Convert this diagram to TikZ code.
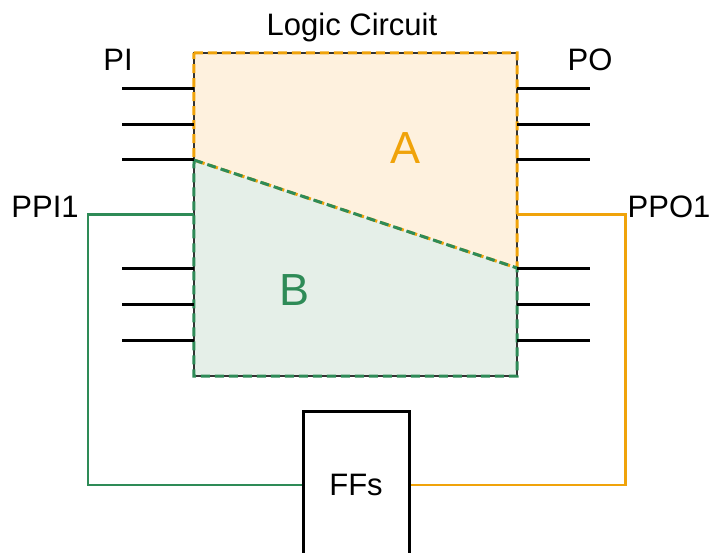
\documentclass[tikz,border=0pt]{standalone}
\usepackage{fontspec}
\setmainfont{Liberation Sans}
\definecolor{partA}{HTML}{F0A30A}
\definecolor{partAfill}{HTML}{FEF1DE}
\definecolor{partB}{HTML}{2E8B57}
\definecolor{partBfill}{HTML}{E5EFE8}
\begin{document}
\begin{tikzpicture}[
  x=1pt, y=-1pt,
  lbl/.style={font=\fontsize{31}{36}\selectfont},
  region/.style={font=\fontsize{45}{52}\selectfont},
  pin/.style={line width=3pt, draw=black},
  part/.style={line width=3pt, dash pattern=on 9pt off 5pt},
  feed/.style={line width=2.6pt}
]
  \useasboundingbox (0,0) rectangle (711,553);

  % Bloque combinacional y el corte entre A y B
  \node[minimum size=323pt, inner sep=0pt] (lc) at (355.5,214.5) {};
  \coordinate (cutL) at (194,160);
  \coordinate (cutR) at (517,268);

  \fill[partAfill] (lc.north west) -- (lc.north east) -- (cutR) -- (cutL) -- cycle;
  \fill[partBfill] (cutL) -- (cutR) -- (lc.south east) -- (lc.south west) -- cycle;
  \draw[black!80, line width=1.8pt] (lc.north west) rectangle (lc.south east);
  \draw[part, partA] (lc.north west) -- (lc.north east) -- (cutR) -- (cutL) -- cycle;
  \draw[part, partB] (cutL) -- (cutR) -- (lc.south east) -- (lc.south west) -- cycle;

  \node[region, text=partA] (a) at (405,148) {A};
  \node[region, text=partB] (b) at (295,290) {B};

  % Entradas y salidas primarias
  \foreach \y in {89,125,160,268,304,340} {
    \draw[pin] (lc.west |- 0,\y) -- ++(-72,0);
    \draw[pin] (lc.east |- 0,\y) -- ++(73,0);
  }

  \node[lbl] (lctitle) at (352,27) {Logic Circuit};
  \node[lbl] (pi) at (118,60) {PI};
  \node[lbl] (po) at (590,60) {PO};
  \node[lbl] (ppi) at (45,207) {PPI1};
  \node[lbl] (ppo) at (669,207) {PPO1};

  % Flip-flops y lazos de realimentacion
  \node[draw=black, line width=3pt, minimum width=106pt, minimum height=148pt,
        lbl] (ff) at (356,485) {FFs};

  \draw[feed, partB] (lc.west) -- ++(-106,0) |- (ff.west);
  \draw[feed, partA] (lc.east) -- ++(108,0) |- (ff.east);
\end{tikzpicture}
\end{document}
